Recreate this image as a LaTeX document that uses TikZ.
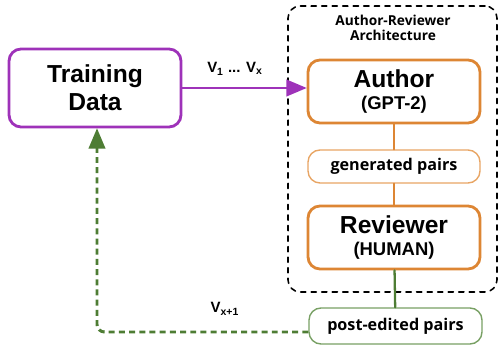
\documentclass[tikz,border=0pt]{standalone}
\usepackage{fontspec}
\setmainfont{Liberation Sans}
\newfontfamily\gillfont{Open Sans}
\usepackage{tikz}
\usetikzlibrary{calc}
\usetikzlibrary{arrows}

\definecolor{purp}{RGB}{158,50,185}
\definecolor{orng}{RGB}{221,134,52}
\definecolor{lorng}{RGB}{232,165,100}
\definecolor{grn}{RGB}{78,125,52}
\definecolor{lgrn}{RGB}{120,160,100}

\begin{document}
\begin{tikzpicture}[x=0.02cm, y=-0.02cm, line cap = round, line join = round, >=triangle 45]
\tikzstyle{bigbox}=[draw, rounded corners=0.24cm, line width=1.6pt, align=center, minimum width=3.44cm, inner sep=0pt]
\tikzstyle{smallbox}=[draw, rounded corners=0.24cm, line width=0.8pt, align=center, minimum width=3.44cm, inner sep=0pt, font=\gillfont\bfseries\fontsize{9.2}{11}\selectfont]
\useasboundingbox (0,0) rectangle (500,347);

\node[draw, dashed, line width=0.9pt, rounded corners=0.24cm, minimum width=4.18cm, minimum height=5.72cm] (arch) at (392.5,149) {};
\node[align=center, font=\gillfont\bfseries\fontsize{7.8}{8.5}\selectfont] (title) at (393,27.5) {Author-Reviewer\\Architecture};

\node[bigbox, draw=purp, minimum height=1.56cm, font=\bfseries\fontsize{14}{16}\selectfont] (data) at (95,88) {Training\\Data};
\node[bigbox, draw=orng, minimum height=1.26cm] (author) at (394,91.5) {{\bfseries\fontsize{14}{14}\selectfont Author}\\{\bfseries\fontsize{10.5}{13}\selectfont (GPT-2)}};
\node[smallbox, draw=lorng, minimum height=0.66cm] (gen) at (394,166.5) {generated pairs};
\node[bigbox, draw=orng, minimum height=1.26cm] (reviewer) at (394,237.5) {{\bfseries\fontsize{14}{14}\selectfont Reviewer}\\{\bfseries\fontsize{10.5}{13}\selectfont (HUMAN)}};
\node[smallbox, draw=lgrn, minimum width=3.46cm, minimum height=0.72cm] (post) at (395.5,326) {post-edited pairs};
\coordinate (corner) at (97,332);

\draw[line width=1.7pt, ->, color=purp] (data.east) -- (data.east -| author.west);
\node[font=\bfseries\fontsize{8.5}{10}\selectfont] (vrange) at (235,69) {V\textsubscript{1} ... V\textsubscript{x}};
\draw[line width=1.3pt, color=orng] (author) -- (gen);
\draw[line width=1.3pt, color=orng] (gen) -- (reviewer);
\draw[line width=1.3pt, color=grn] (reviewer) -- (post);
\draw[line width=1.7pt, dash pattern=on 3.4pt off 2.4pt, line cap=butt, ->, color=grn, rounded corners=0.15cm] ($(post.west)+(0,6)$) -- (corner) -- (data.south -| corner);
\node[font=\bfseries\fontsize{8.5}{10}\selectfont] (vnext) at (225,309) {V\textsubscript{x+1}};
\end{tikzpicture}
\end{document}
